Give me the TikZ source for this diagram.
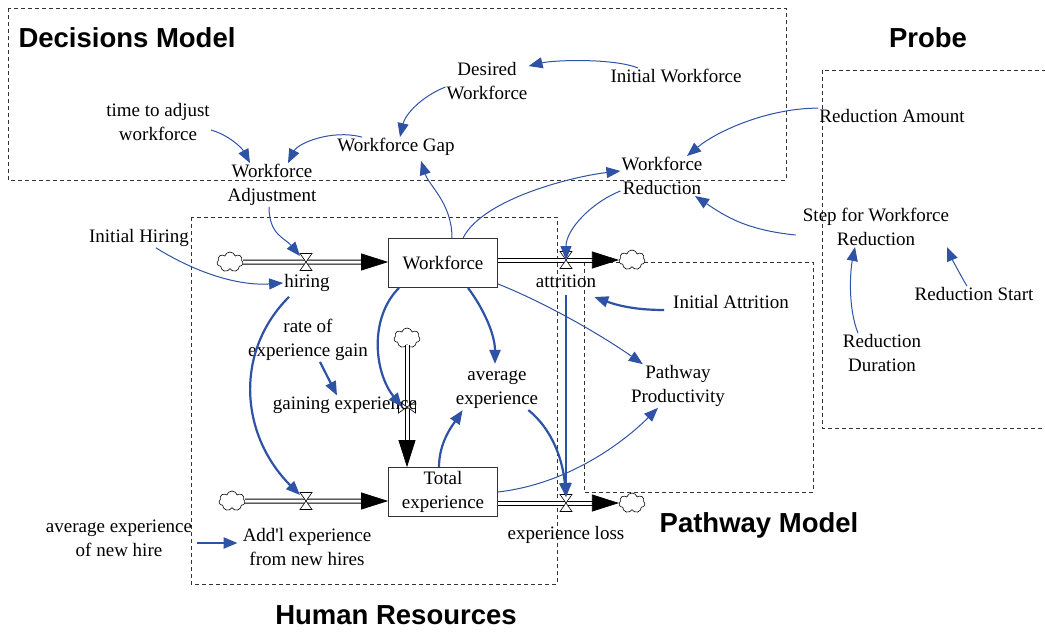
\documentclass[tikz,border=0pt]{standalone}
\usepackage{fontspec}
\setmainfont{Liberation Serif}
\newfontfamily\headfont{Liberation Sans}
\usetikzlibrary{shapes.symbols,arrows.meta,calc}

\definecolor{linkblue}{RGB}{46,82,164}

\tikzset{
  var/.style={align=center, inner sep=1pt, font=\fontsize{19}{24}\selectfont},
  stock/.style={draw=black!80, fill=white, line width=0.8pt, minimum width=109pt,
    minimum height=49pt, inner sep=1pt, align=center, font=\fontsize{19}{24}\selectfont},
  title/.style={font=\headfont\bfseries\fontsize{27.5}{32}\selectfont},
  region/.style={draw=black!80, dash pattern=on 4pt off 3pt, line width=0.7pt},
  pipe/.style={draw=black, line width=1pt, double=white, double distance=3pt},
  flowtip/.style={draw=black, line width=0.7pt, -{Triangle[length=27pt,width=17pt]}},
  cloudy/.style={cloud, cloud puffs=7, draw=black, fill=white, line width=0.6pt,
    minimum width=26pt, minimum height=20pt, inner sep=0pt},
  link/.style={draw=linkblue, line width=1pt, -{Triangle[length=14pt,width=11pt]}},
  boldlink/.style={link, line width=2.2pt},
  valve/.pic={\filldraw[fill=white, draw=black, line width=0.6pt]
    (-6,-8.5) -- (6,-8.5) -- (-6,8.5) -- (6,8.5) -- cycle;}
}

\begin{document}
\begin{tikzpicture}[x=1pt, y=-1pt]
    \useasboundingbox (0,0) rectangle (1045,633);

    % Model regions
    \draw[region] (8,8) rectangle (786,180);
    \draw[region] (822,70) rectangle (1052,428);
    \draw[region] (191,217) rectangle (557,584);
    \draw[region] (584,262) rectangle (813,492);

    \node[title] (tdm) at (127,38) {Decisions Model};
    \node[title] (tpr) at (928,38) {Probe};
    \node[title] (tpm) at (759,525) {Pathway Model};
    \node[title] (thr) at (396,615) {Human Resources};

    % Clouds and valves
    \node[cloudy] (c1) at (230,262) {};
    \node[cloudy] (c2) at (632,260) {};
    \node[cloudy] (c3) at (232,501) {};
    \node[cloudy] (c4) at (632,503) {};
    \node[cloudy] (c5) at (407,338) {};
    \coordinate (vh) at (306,262);
    \coordinate (va) at (566,260);
    \coordinate (vn) at (306,501);
    \coordinate (vl) at (566,503);
    \coordinate (vg) at (407,407);

    % Stocks
    \node[stock] (wf) at (443,263) {Workforce};
    \node[stock] (te) at (443,492) {Total\\experience};

    % Flows
    \coordinate (hin) at (vh -| wf.west);
    \draw[pipe] (c1) -- ([xshift=-26pt]hin);
    \draw[flowtip] ([xshift=-27pt]hin) -- (hin);
    \coordinate (aout) at (va -| wf.east);
    \coordinate (aend) at (va -| c2.west);
    \draw[pipe] (aout) -- ([xshift=-26pt]aend);
    \draw[flowtip] ([xshift=-27pt]aend) -- (aend);
    \coordinate (nin) at (vn -| te.west);
    \draw[pipe] (c3) -- ([xshift=-26pt]nin);
    \draw[flowtip] ([xshift=-27pt]nin) -- (nin);
    \coordinate (lout) at (vl -| te.east);
    \coordinate (lend) at (vl -| c4.west);
    \draw[pipe] (lout) -- ([xshift=-26pt]lend);
    \draw[flowtip] ([xshift=-27pt]lend) -- (lend);
    \coordinate (gin) at (vg |- te.north);
    \draw[pipe] (c5) -- ([yshift=26pt]gin);
    \draw[flowtip] ([yshift=27pt]gin) -- (gin);

    \pic at (vh) {valve};
    \pic at (va) {valve};
    \pic at (vn) {valve};
    \pic at (vl) {valve};
    \pic[rotate=90] at (vg) {valve};

    \node[var] (hl) at (307,283) {hiring};
    \node[var] (al) at (566,281) {attrition};
    \node[var] (nl) at (307,547) {Add\textquotesingle l experience\\from new hires};
    \node[var] (ll) at (566,535) {experience loss};
    \node[var] (gl) at (345,405) {gaining experience};

    % Auxiliaries
    \node[var] (dw) at (487,81) {Desired\\Workforce};
    \node[var] (iw) at (676,76) {Initial Workforce};
    \node[var] (ta) at (158,122) {time to adjust\\workforce};
    \node[var] (wg) at (396,147) {Workforce Gap};
    \node[var] (wa) at (272,185) {Workforce\\Adjustment};
    \node[var] (wr) at (662,176) {Workforce\\Reduction};
    \node[var] (ra) at (892,116) {Reduction Amount};
    \node[var] (sw) at (876,227) {Step for Workforce\\Reduction};
    \node[var] (rs) at (974,294) {Reduction Start};
    \node[var] (rd) at (882,353) {Reduction\\Duration};
    \node[var] (ih) at (139,238) {Initial Hiring};
    \node[var] (iat) at (731,302) {Initial Attrition};
    \node[var] (rg) at (308,340) {rate of\\experience gain};
    \node[var] (ae) at (497,390) {average\\experience};
    \node[var] (pp) at (678,386) {Pathway\\Productivity};
    \node[var] (an) at (119,538) {average experience\\of new hire};

    % Decisions links
    \draw[link] ([xshift=-38pt]iw.north) .. controls +(-25,-10) and +(25,-6) .. ([yshift=-5pt]dw.north east);
    \draw[link] ([yshift=-6pt]dw.west) .. controls +(-25,10) and +(5,-22) .. ([xshift=4pt]wg.north);
    \draw[link] ([xshift=-34pt]wg.north) .. controls +(-30,-8) and +(10,-20) .. ([xshift=16pt]wa.north);
    \draw[link] ([yshift=-8pt]ta.east) .. controls +(18,5) and +(-8,-15) .. ([xshift=-22pt]wa.north);
    \draw[link] ([xshift=-3pt]wa.south) .. controls +(0,28) and +(-15,-18) .. ([shift={(-6,-6)}]vh);
    \draw[link] ([xshift=17pt]ih.south) .. controls +(40,25) and +(-45,3) .. (hl.west);

    % Workforce links
    \draw[link] ([xshift=9pt]wf.north) .. controls +(0,-35) and +(8,25) .. ([xshift=25pt,yshift=-4pt]wg.south);
    \draw[link] ([xshift=20pt]wf.north) .. controls +(20,-40) and +(-45,5) .. ([yshift=5pt]wr.west);
    \draw[link] ([yshift=4pt]wf.south east) .. controls +(50,20) and +(-40,-28) .. ([xshift=13pt]pp.north west);
    \draw[boldlink] ([xshift=25pt]wf.south) .. controls +(15,20) and +(0,-30) .. ([shift={(-2,-6)}]ae.north);
    \draw[boldlink] ([xshift=-44pt]wf.south) .. controls +(-30,30) and +(-28,-35) .. ([xshift=-5pt]vg);

    % Probe links
    \draw[link] (ra.north west) .. controls +(-50,0) and +(30,-25) .. ([xshift=25pt]wr.north);
    \draw[link] ([shift={(-6,8)}]sw.west) .. controls +(-50,-5) and +(30,20) .. ([xshift=33pt]wr.south);
    \draw[link] ([yshift=-15pt]wr.west) .. controls +(-30,12) and +(0,-30) .. (va);
    \draw[link] ([xshift=-24pt]rd.north) .. controls +(-10,-25) and +(-5,25) .. ([xshift=-21pt]sw.south);
    \draw[link] ([xshift=-7pt]rs.north) .. controls +(-6,-10) and +(5,12) .. ([xshift=71pt]sw.south);

    % Experience links
    \draw[boldlink] ([shift={(-8,8)}]iat.west) .. controls +(-30,0) and +(22,8) .. ([shift={(-3,16)}]al.east);
    \draw[link] (te.east) .. controls +(70,-8) and +(-35,35) .. ([xshift=-20pt]pp.south);
    \draw[boldlink] ([yshift=-6pt]al.south) -- ([yshift=6pt]vl);
    \draw[boldlink] ([xshift=-11pt]ae.south east) .. controls +(25,20) and +(-3,-35) .. ([yshift=6pt]vl);
    \draw[boldlink] ([xshift=-4pt]te.north) .. controls +(0,-25) and +(-10,15) .. ([xshift=8pt]ae.south west);
    \draw[boldlink] ([xshift=12pt]rg.south) -- ([xshift=-8pt]gl.north);
    \draw[boldlink] ([shift={(-18,4)}]hl.south) .. controls +(-55,55) and +(-60,-60) .. ([shift={(-6,-6)}]vn);
    \draw[boldlink] ([shift={(4,5)}]an.east) -- ([shift={(-4,-4)}]nl.west);
\end{tikzpicture}
\end{document}
